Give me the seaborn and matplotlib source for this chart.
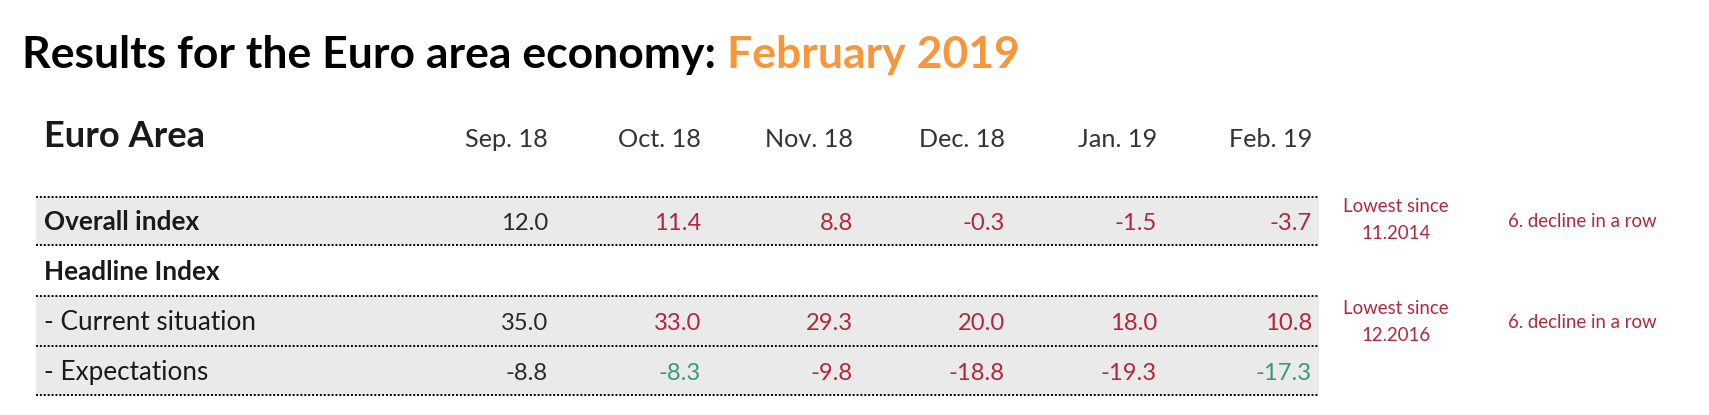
import matplotlib
matplotlib.use("Agg")
import matplotlib.pyplot as plt
from matplotlib.patches import Rectangle
import seaborn as sns

# ---------------- data ----------------
months = ["Sep. 18", "Oct. 18", "Nov. 18", "Dec. 18", "Jan. 19", "Feb. 19"]
row_labels = ["Overall index", "Headline Index", "- Current situation", "- Expectations"]
overall = [12.0, 11.4, 8.8, -0.3, -1.5, -3.7]
current = [35.0, 33.0, 29.3, 20.0, 18.0, 10.8]
expectations = [-8.8, -8.3, -9.8, -18.8, -19.3, -17.3]
note_lowest_overall = "Lowest since\n11.2014"
note_lowest_current = "Lowest since\n12.2016"
note_decline = "6. decline in a row"
title_main = "Results for the Euro area economy: "
title_month = "February 2019"
table_name = "Euro Area"

# ---------------- style ----------------
sns.set_theme(style="white")
plt.rcParams['font.family'] = ['Lato', 'DejaVu Sans']

RED = "#B0283C"
GREEN = "#3A9A72"
ORANGE = "#F7963A"
GRAY = "#EAEAEA"
TXT = "#1a1a1a"
VAL = "#2a2a2a"

W, H = 1709, 415
fig = plt.figure(figsize=(W / 100, H / 100), dpi=100)
ax = fig.add_axes([0, 0, 1, 1])
ax.set_xlim(0, W)
ax.set_ylim(H, 0)
ax.axis('off')
renderer = fig.canvas.get_renderer()


def fit(t, target_w):
    w = t.get_window_extent(renderer).width
    t.set_fontsize(t.get_fontsize() * target_w / w)
    return t.get_fontsize()


# layout
col_right = [548, 701, 853, 1005, 1157, 1312]
tab_left, tab_right = 36, 1319
lines_y = [197, 245, 296, 346, 395]
row_base = [230, 280, 330, 380]
label_x = 44

# title
t1 = ax.text(22, 68, title_main, fontsize=30, weight='bold', color='black', va='baseline')
t2 = ax.text(0, 68, title_month, fontsize=30, weight='bold', color=ORANGE, va='baseline')
w1 = t1.get_window_extent(renderer).width
w2 = t2.get_window_extent(renderer).width
fs = 30 * 995 / (w1 + w2)
t1.set_fontsize(fs)
t2.set_fontsize(fs)
w1 = t1.get_window_extent(renderer).width
t2.set_x(22 + w1)

# table name
tn = ax.text(label_x, 147, table_name, fontsize=20, weight='bold', color=TXT, va='baseline')
fit(tn, 161)

# backgrounds
bands = [(lines_y[0], lines_y[1], GRAY), (lines_y[1], lines_y[2], "white"),
         (lines_y[2], lines_y[3], GRAY), (lines_y[3], lines_y[4], GRAY)]
for y0, y1, c in bands:
    ax.add_patch(Rectangle((tab_left, y0), tab_right - tab_left, y1 - y0,
                           facecolor=c, edgecolor='none', zorder=0))
for y in lines_y:
    ax.plot([tab_left, tab_right], [y, y], color='black', lw=1.4,
            linestyle=(0, (1, 1)), zorder=1)

# headers
th = ax.text(col_right[0], 147, months[0], fontsize=16, color="#333333", ha='right', va='baseline')
hfs = fit(th, 83)
for x, m in zip(col_right[1:], months[1:]):
    ax.text(x, 147, m, fontsize=hfs, color="#333333", ha='right', va='baseline')

# row labels
tl = ax.text(label_x, row_base[2], row_labels[2], fontsize=16, color=TXT, va='baseline')
lfs = fit(tl, 213)
ax.text(label_x, row_base[0], row_labels[0], fontsize=lfs, weight='bold', color=TXT, va='baseline')
ax.text(label_x, row_base[1], row_labels[1], fontsize=lfs, weight='bold', color=TXT, va='baseline')
ax.text(label_x, row_base[3], row_labels[3], fontsize=lfs, color=TXT, va='baseline')

# values
tv = ax.text(0, 0, "-18.8", fontsize=16)
vfs = fit(tv, 50) * 1.12
tv.remove()


def draw_row(vals, yb):
    for i, (x, v) in enumerate(zip(col_right, vals)):
        if i == 0:
            c = VAL
        else:
            c = RED if v < vals[i - 1] else GREEN
        ax.text(x, yb, f"{v:.1f}", fontsize=vfs, color=c, ha='right', va='baseline')


draw_row(overall, row_base[0])
draw_row(current, row_base[2])
draw_row(expectations, row_base[3])

# notes
tdn = ax.text(1582, 227, note_decline, fontsize=12, color=RED, ha='center', va='baseline')
nfs = fit(tdn, 143) * 1.04
tdn.set_fontsize(nfs)
ax.text(1582, 328, note_decline, fontsize=nfs, color=RED, ha='center', va='baseline')
for note, yb in [(note_lowest_overall, 212), (note_lowest_current, 314)]:
    a, b = note.split("\n")
    ax.text(1396, yb, a, fontsize=nfs, color=RED, ha='center', va='baseline')
    ax.text(1396, yb + 27, b, fontsize=nfs, color=RED, ha='center', va='baseline')

fig.savefig("out.png", dpi=100, facecolor='white')
